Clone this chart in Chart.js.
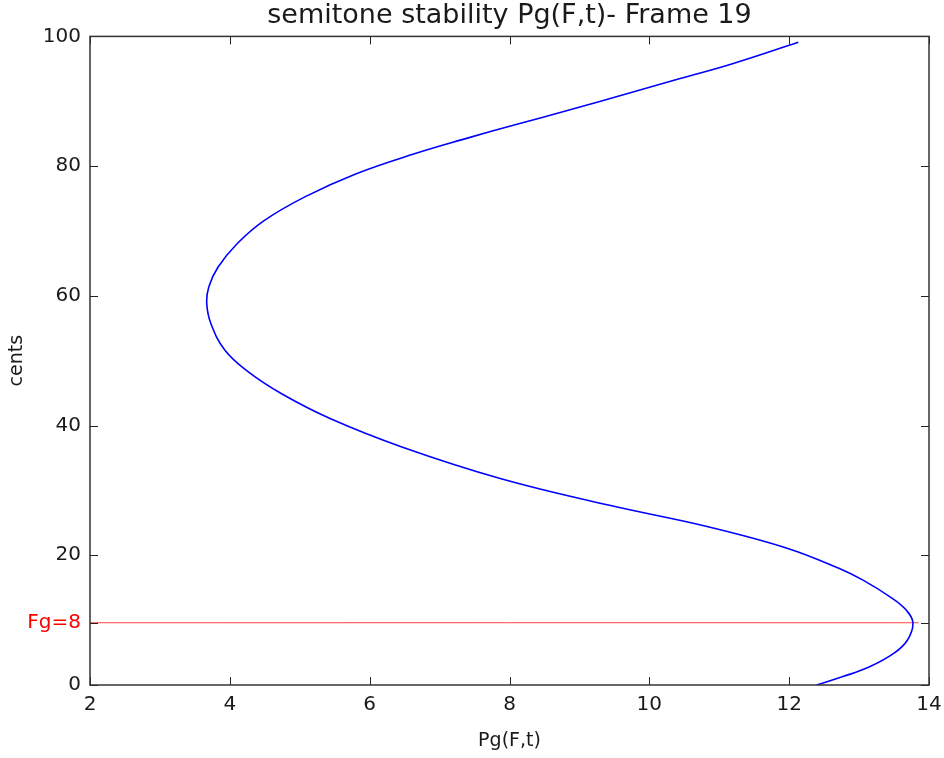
<!DOCTYPE html>
<html>
<head>
<meta charset="utf-8">
<script src="https://cdn.jsdelivr.net/npm/chart.js@4/dist/chart.umd.min.js"></script>
<style>
  html, body { margin: 0; padding: 0; background: #ffffff; }
  #wrap { width: 944px; height: 758px; }
</style>
</head>
<body>
<div id="wrap"><canvas id="c" width="944" height="758"></canvas></div>
<script>
// ---- data ----
const cents = [0, 1.3, 2.8, 4.9, 6.9, 9.6, 11.6, 13.4, 16.2, 18.0, 21.1, 24.4, 27.7, 31.8, 36.7, 41.0, 44.9, 48.3, 51.6, 55.7, 58.8, 61.4, 64.4, 68.0, 71.6, 75.3, 78.8, 81.9, 84.2, 86.5, 88.6, 91.2, 93.5, 95.8, 99.1];
const pg    = [12.39, 12.77, 13.15, 13.50, 13.69, 13.77, 13.67, 13.47, 13.05, 12.71, 11.97, 10.84, 9.43, 7.88, 6.46, 5.45, 4.74, 4.26, 3.93, 3.73, 3.67, 3.70, 3.83, 4.10, 4.49, 5.08, 5.80, 6.64, 7.36, 8.12, 8.84, 9.69, 10.44, 11.19, 12.13];

const fgCents = 9.6;
const fgLineX = [2, 13.85];
const fgLabel = 'Fg=8';

const xTicks = [2, 4, 6, 8, 10, 12, 14];
const yTicks = [0, fgCents, 20, 40, 60, 80, 100];
const yTickLabels = ['0', fgLabel, '20', '40', '60', '80', '100'];

const titleText = 'semitone stability Pg(F,t)- Frame 19';
const xTitle = 'Pg(F,t)';
const yTitle = 'cents';

// ---- build datasets ----
const curve = cents.map((c, i) => ({ x: pg[i], y: c }));
const fgLine = fgLineX.map(x => ({ x: x, y: fgCents }));

const FONT = 'DejaVu Sans';
const TXT = '#1a1a1a';

const frameTicks = {
  id: 'frameTicks',
  afterDatasetsDraw(chart) {
    const { ctx, chartArea: a, scales } = chart;
    ctx.save();
    ctx.strokeStyle = '#222';
    ctx.lineWidth = 1;
    const L = 8;
    ctx.beginPath();
    xTicks.forEach(v => {
      const px = Math.round(scales.x.getPixelForValue(v)) + 0.5;
      ctx.moveTo(px, a.bottom); ctx.lineTo(px, a.bottom - L);
      ctx.moveTo(px, a.top); ctx.lineTo(px, a.top + L);
    });
    yTicks.forEach(v => {
      const py = Math.round(scales.y.getPixelForValue(v)) + 0.5;
      ctx.moveTo(a.left, py); ctx.lineTo(a.left + L, py);
      ctx.moveTo(a.right, py); ctx.lineTo(a.right - L, py);
    });
    ctx.stroke();
    ctx.strokeStyle = '#333';
    ctx.lineWidth = 1.5;
    ctx.strokeRect(a.left, a.top, a.right - a.left, a.bottom - a.top);
    ctx.restore();
  }
};

new Chart(document.getElementById('c'), {
  type: 'line',
  data: {
    datasets: [
      {
        data: curve,
        borderColor: '#0000ff',
        borderWidth: 1.6,
        pointRadius: 0,
        tension: 0.4,
        fill: false
      },
      {
        data: fgLine,
        borderColor: 'rgba(255,0,0,0.75)',
        borderWidth: 1,
        pointRadius: 0,
        tension: 0,
        fill: false
      }
    ]
  },
  options: {
    responsive: false,
    animation: false,
    layout: { padding: { left: 0, right: 15, top: 0, bottom: 0 } },
    plugins: {
      legend: { display: false },
      tooltip: { enabled: false },
      title: {
        display: true,
        fullSize: false,
        text: titleText,
        color: TXT,
        font: { family: FONT, size: 27, weight: 'normal' },
        padding: { top: 0, bottom: 4 }
      }
    },
    scales: {
      x: {
        type: 'linear',
        min: 2, max: 14,
        afterBuildTicks: s => { s.ticks = xTicks.map(v => ({ value: v })); },
        afterFit: s => { s.height = 73; s.paddingLeft = 0; s.paddingRight = 0; },
        grid: { display: false, drawTicks: false },
        border: { display: false },
        ticks: {
          color: TXT,
          padding: 8,
          autoSkip: false,
          maxRotation: 0,
          font: { family: FONT, size: 20 }
        },
        title: {
          display: true,
          text: xTitle,
          color: TXT,
          font: { family: FONT, size: 19 },
          padding: { top: 0, bottom: 6 }
        }
      },
      y: {
        type: 'linear',
        min: 0, max: 100,
        afterBuildTicks: s => { s.ticks = yTicks.map(v => ({ value: v })); },
        afterFit: s => { s.width = 90; },
        grid: { display: false, drawTicks: false },
        border: { display: false },
        ticks: {
          autoSkip: false,
          padding: 9,
          font: { family: FONT, size: 20 },
          color: c => (c.tick && c.tick.value === fgCents) ? '#ff0000' : TXT,
          callback: (v, i) => yTickLabels[i]
        },
        title: {
          display: true,
          text: yTitle,
          color: TXT,
          font: { family: FONT, size: 19 },
          padding: { top: 6, bottom: 0 }
        }
      }
    }
  },
  plugins: [frameTicks]
});
</script>
</body>
</html>
